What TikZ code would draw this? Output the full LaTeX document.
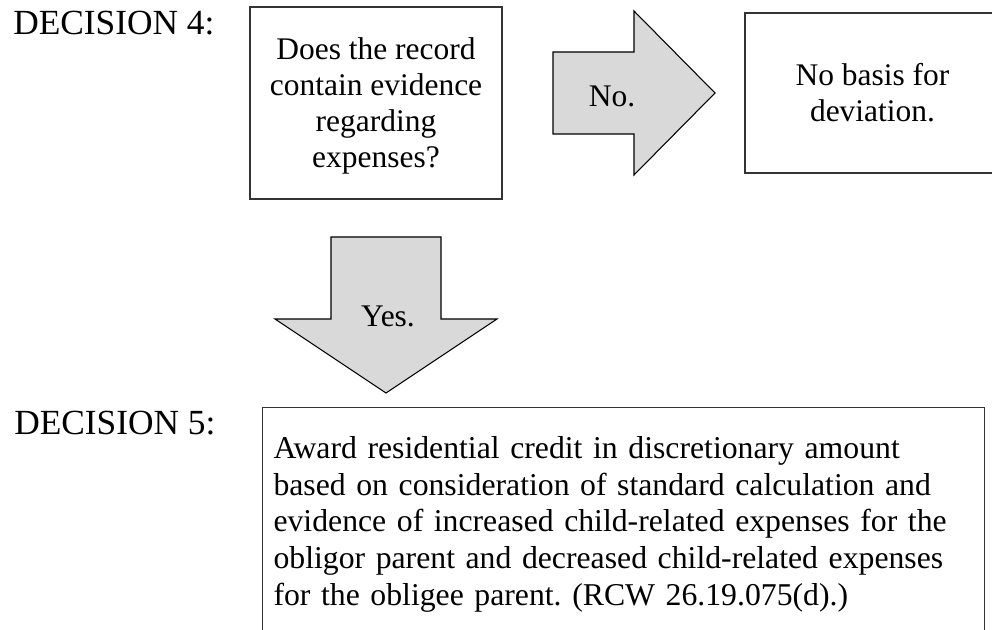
\documentclass[tikz,border=0pt]{standalone}
\usepackage{fontspec}
\setmainfont{Liberation Serif}
\frenchspacing
\definecolor{arrowfill}{HTML}{D9D9D9}
\definecolor{edge}{HTML}{333333}
\begin{document}
\begin{tikzpicture}[x=0.75pt,y=-0.75pt,
  boxline/.style={draw=edge, line width=0.8pt},
  qbox/.style={boxline, align=center, inner sep=0pt,
    font=\fontsize{23.6pt}{27pt}\selectfont},
  longbox/.style={boxline, align=left, anchor=north west,
    inner xsep=8.25pt, inner ysep=21.6pt,
    minimum width=541.5pt, text width=525pt, text depth=150pt,
    font=\fontsize{23.8pt}{27.6pt}\selectfont},
  blockarrow/.style={draw=black, line width=0.8pt, fill=arrowfill, line join=miter},
  lbl/.style={font=\fontsize{26.5pt}{30pt}\selectfont, inner sep=0pt, anchor=base west},
  armtext/.style={font=\fontsize{23.6pt}{27pt}\selectfont, inner sep=0pt, anchor=base}]
\useasboundingbox (0,0) rectangle (992,630);
\clip (0,0) rectangle (992,630);

% labels
\node[lbl] (d4) at (13,35) {DECISION 4:};
\node[lbl] (d5) at (14,435) {DECISION 5:};

% decision 4 question
\node[qbox, text depth=0pt, minimum width=189pt, minimum height=144pt] (q) at (376,103)
  {Does the record\\contain evidence\\regarding\\expenses?};

% no-outcome box (runs past the right edge)
\node[qbox, minimum width=191.25pt, minimum height=120pt] (nob) at (872.5,93)
  {No basis for\\deviation.};

% right block arrow "No."
\draw[blockarrow] (553,52) -- (634,52) -- (634,11) -- (715,93) -- (634,175)
  -- (634,134) -- (553,134) -- cycle;
\node[armtext] (no) at (612,107) {No.};

% down block arrow "Yes."
\draw[blockarrow] (331,237) -- (441,237) -- (441,319) -- (497,319) -- (386,393)
  -- (275,319) -- (331,319) -- cycle;
\node[armtext] (yes) at (388,327) {Yes.};

% decision 5 outcome box (runs past the bottom edge)
\node[longbox] (award) at (262,407)
  {Award residential credit in discretionary amount based on consideration of standard calculation and evidence of increased child-related expenses for the obligor parent and decreased child-related expenses for the obligee parent. (RCW 26.19.075(d).)};
\end{tikzpicture}
\end{document}
